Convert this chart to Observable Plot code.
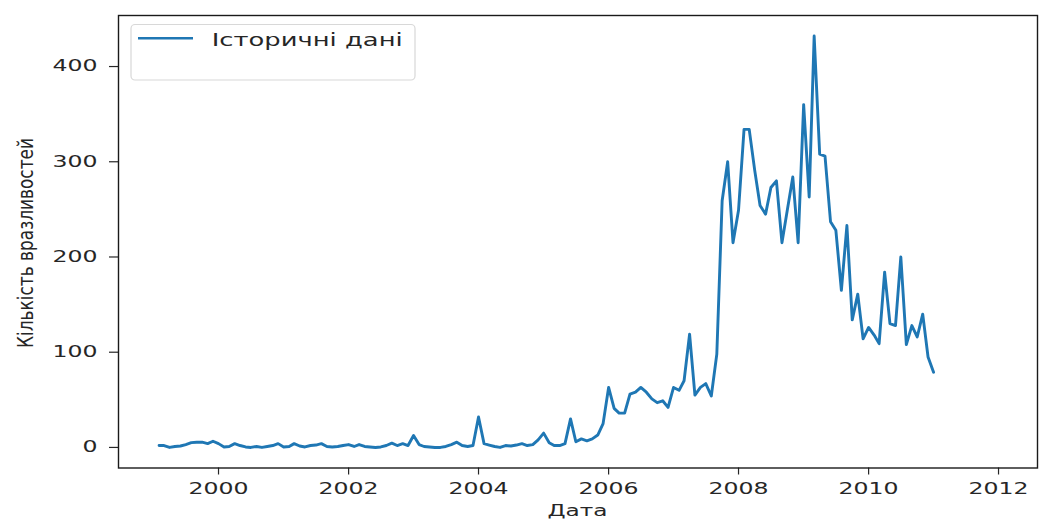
<!DOCTYPE html>
<html><head><meta charset="utf-8">
<script src="https://cdn.jsdelivr.net/npm/d3@7"></script>
<script src="https://cdn.jsdelivr.net/npm/@observablehq/plot@0.6"></script>
<style>
body{margin:0;background:#fff;}
#chart{position:relative;width:1039px;height:521px;}
</style></head><body><div id="chart"></div>
<script>
// ---- data ----
const seriesName = "Історичні дані";
const startYear = 1999, startMonth = 2; // first monthly point
const values = [
  2,2,0,1,1.5,3,5,5.5,5.5,4,6.5,4,
  0.5,1,4,2,0.5,0,1,0,1,2,4,0.5,
  1,4,1.5,0.5,2,2.5,4,1,0.5,1,2,3,
  1,3,1,0.5,0,0.5,2,4.5,2,4,2,12.5,
  3,1,0.5,0,0,1,3,5.5,2,1,2,32,
  4,2.5,1,0,2,1.5,2.5,4,2,3,8,15,
  5,2,2,4,30,6,9,7,9,13,25,63,
  41,36,36,56,58,63,58,51,47,49,42,63,
  60,70,119,55,63,67,54,98,259,300,215,249,
  334,334,291,254,245,273,280,215,249,284,215,360,
  263,432,308,306,237,228,165,233,134,161,114,126,
  118,109,184,130,128,200,108,128,116,140,95,79
];
const xTickYears = [2000,2002,2004,2006,2008,2010,2012];
const yTicks = [0,100,200,300,400];
const xDomain = ["1998-06-18","2012-08-07"];
const yDomain = [-21.6, 453.6];
const xLabel = "Дата";
const yLabel = "Кількість вразливостей";

const data = values.map((v,k)=>({date:new Date(Date.UTC(startYear,startMonth-1+k,1)), value:v}));
const xTicks = xTickYears.map(y=>new Date(Date.UTC(y,0,1)));

const FONT = "DejaVu Sans, sans-serif";
const svg = Plot.plot({
  width:1039, height:521,
  marginLeft:118, marginRight:2, marginTop:15, marginBottom:53.5,
  style:{fontFamily:FONT, fontSize:"15px", color:"#262626", background:"#fff"},
  x:{type:"utc", domain:xDomain.map(d=>new Date(d)), label:null},
  y:{domain:yDomain, label:null},
  marks:[
    Plot.axisY(yTicks,{tickSize:9, tickPadding:12, fontSize:15, label:null, strokeWidth:1.2}),
    Plot.axisX(xTicks,{tickSize:7, tickPadding:8, tickFormat:"%Y", fontSize:15, label:null, strokeWidth:1.2}),
    Plot.lineY(data,{x:"date", y:"value", stroke:"#1f77b4", strokeWidth:2.9, strokeLinejoin:"round"}),
    Plot.frame({stroke:"#1a1a1a", strokeWidth:1.4})
  ]
});
document.getElementById("chart").appendChild(svg);

const s = d3.select(svg);
s.selectAll('g[aria-label="y-axis tick label"] text, g[aria-label="x-axis tick label"] text').each(function(){
  const n = this.textContent.length;
  this.setAttribute("textLength", n*15);
  this.setAttribute("lengthAdjust","spacingAndGlyphs");
});

// legend
const lg = s.append("g");
lg.append("rect").attr("x",131).attr("y",24.5).attr("width",284).attr("height",55.5).attr("rx",4)
  .attr("fill","#fff").attr("fill-opacity",0.85).attr("stroke","#d8d8d8").attr("stroke-width",1.2);
lg.append("line").attr("x1",138).attr("x2",193).attr("y1",38.3).attr("y2",38.3)
  .attr("stroke","#1f77b4").attr("stroke-width",2.4);
lg.append("text").attr("x",211.7).attr("y",45.7).attr("text-anchor","start").attr("font-family",FONT).attr("font-size",18)
  .attr("fill","#262626").attr("textLength",191).attr("lengthAdjust","spacingAndGlyphs").text(seriesName);

// axis labels
s.append("text").attr("transform","translate(33,243) rotate(-90)").attr("text-anchor","middle")
  .attr("font-family",FONT).attr("font-size",21).attr("fill","#262626")
  .attr("textLength",210).attr("lengthAdjust","spacingAndGlyphs").text(yLabel);
s.append("text").attr("x",577.5).attr("y",516).attr("text-anchor","middle")
  .attr("font-family",FONT).attr("font-size",15).attr("fill","#262626")
  .attr("textLength",60).attr("lengthAdjust","spacingAndGlyphs").text(xLabel);
</script></body></html>
